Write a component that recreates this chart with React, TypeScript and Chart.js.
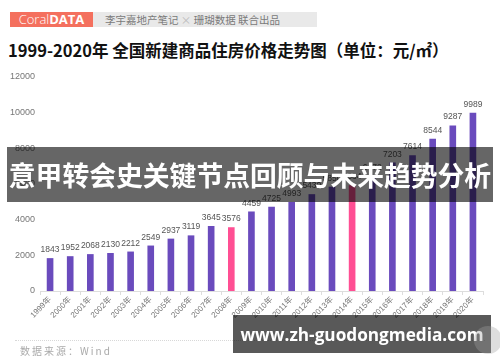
import React, { useEffect, useRef } from "react";
import { Chart, registerables } from "chart.js";

Chart.register(...registerables);

const years = [
  "1999年", "2000年", "2001年", "2002年", "2003年", "2004年", "2005年", "2006年",
  "2007年", "2008年", "2009年", "2010年", "2011年", "2012年", "2013年", "2014年",
  "2015年", "2016年", "2017年", "2018年", "2019年", "2020年",
];
const prices = [
  1843, 1952, 2068, 2130, 2212, 2549, 2937, 3119, 3645, 3576, 4459, 4725,
  4993, 5430, 5850, 5934, 6472, 7203, 7614, 8544, 9287, 9989,
];
const highlightYears = ["2008年", "2014年"];

const PURPLE = "#6a4bbd";
const PINK = "#ff4f93";

const valueLabels = {
  id: "valueLabels",
  afterDatasetsDraw(chart: any) {
    const { ctx } = chart;
    const meta = chart.getDatasetMeta(0);
    ctx.save();
    ctx.font = "8.5px Arial, 'Liberation Sans', sans-serif";
    ctx.fillStyle = "#555";
    ctx.textAlign = "center";
    ctx.textBaseline = "bottom";
    meta.data.forEach((el: any, i: number) => {
      ctx.fillText(String(prices[i]), el.x, el.y - 4);
    });
    ctx.restore();
  },
};

export default function App() {
  const ref = useRef<HTMLCanvasElement>(null);
  useEffect(() => {
    if (!ref.current) return;
    const chart = new Chart(ref.current, {
      type: "bar",
      data: {
        labels: years,
        datasets: [
          {
            data: prices,
            backgroundColor: years.map((y) => (highlightYears.includes(y) ? PINK : PURPLE)),
            barPercentage: 0.33,
            categoryPercentage: 1,
          },
        ],
      },
      options: {
        animation: false,
        responsive: false,
        maintainAspectRatio: false,
        layout: { padding: { top: 77, left: 0, right: 17, bottom: 0 } },
        plugins: { legend: { display: false }, tooltip: { enabled: false } },
        scales: {
          x: {
            grid: { display: true, drawOnChartArea: false, drawTicks: true, tickLength: 4, color: "#dddddd", offset: true },
            border: { display: true, color: "#dddddd" },
            ticks: {
              minRotation: 45,
              maxRotation: 45,
              autoSkip: false,
              padding: 0,
              color: "#777",
              font: { size: 8, family: "Arial, 'Liberation Sans', 'Noto Sans CJK SC', sans-serif" },
            },
            afterFit: (s: any) => { s.height = 71; },
          },
          y: {
            min: 0,
            max: 12000,
            grid: { display: false, drawTicks: false },
            border: { display: false },
            ticks: {
              stepSize: 2000,
              padding: 5,
              color: "#777",
              font: { size: 9, family: "Arial, 'Liberation Sans', sans-serif" },
              callback: (v: any) => String(v),
            },
            afterFit: (s: any) => { s.width = 40; },
          },
        },
      },
      plugins: [valueLabels],
    });
    return () => chart.destroy();
  }, []);

  const cjk = "'Noto Sans CJK SC', 'Noto Sans', sans-serif";
  return (
    <div style={{ position: "absolute", left: 0, top: 0, width: 500, height: 362, background: "#fff", overflow: "hidden", fontFamily: cjk }}>
      {/* header */}
      <div style={{ position: "absolute", left: 10, top: 12, width: 83, height: 15, background: "#f4705e", color: "#fff", fontFamily: "'Open Sans', Arial, sans-serif", fontSize: 13, lineHeight: "15px", textAlign: "center" }}>
        <span style={{ fontWeight: 300 }}>Coral</span><span style={{ fontWeight: 700 }}>DATA</span>
      </div>
      <div style={{ position: "absolute", left: 93, top: 12, width: 224, height: 15, background: "#e9e9e9", color: "#7a7a7a", fontSize: 10.5, lineHeight: "15px", paddingLeft: 12, boxSizing: "border-box", whiteSpace: "nowrap" }}>
        李宇嘉地产笔记 <span style={{ color: "#bbb" }}>×</span> 珊瑚数据 联合出品
      </div>
      <div style={{ position: "absolute", left: 8, top: 39, fontSize: 16.5, fontWeight: 700, color: "#111", whiteSpace: "nowrap", lineHeight: "22px" }}>
        1999-2020年 全国新建商品住房价格走势图（单位：元/㎡）
      </div>

      <canvas ref={ref} width={500} height={362} style={{ position: "absolute", left: 0, top: 0, width: 500, height: 362 }} />

      {/* footer */}
      <div style={{ position: "absolute", left: 15, top: 340, width: 470, borderTop: "1px dotted #d8d8d8" }} />
      <div style={{ position: "absolute", left: 20, top: 344, fontSize: 10, color: "#aaa", letterSpacing: 2, lineHeight: "14px" }}>
        数据来源：Wind
      </div>

      {/* overlays */}
      <div style={{ position: "absolute", left: 7, top: 147, width: 486, height: 55, background: "rgba(0,0,0,0.6)", color: "#fff", fontWeight: 700, fontSize: 26.8, display: "flex", alignItems: "center", justifyContent: "center", whiteSpace: "nowrap" }}>
        意甲转会史关键节点回顾与未来趋势分析
      </div>
      <div style={{ position: "absolute", left: 233, top: 315, width: 258, height: 38, background: "rgba(0,0,0,0.65)", color: "#fff", fontWeight: 700, fontSize: 17.2, display: "flex", alignItems: "center", justifyContent: "center", whiteSpace: "nowrap", fontFamily: "'Open Sans', 'Noto Sans', sans-serif" }}>
        www.zh-guodongmedia.com
      </div>
      <div style={{ position: "absolute", left: 474, top: 326, width: 28, height: 28, borderRadius: "50%", background: "rgba(160,160,160,0.35)" }} />
    </div>
  );
}
